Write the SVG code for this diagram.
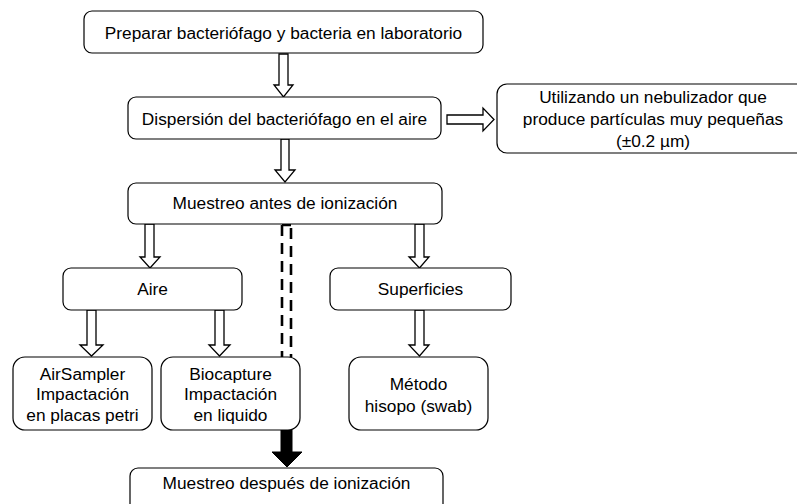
<svg xmlns="http://www.w3.org/2000/svg" width="797" height="504" viewBox="0 0 797 504">
<style>
.box{fill:#fff;stroke:#000;stroke-width:1.2}
.t{font-family:"Liberation Sans",Arial,sans-serif;font-size:17.3px;fill:#000;text-anchor:middle}
.ar{fill:#fff;stroke:#000;stroke-width:1.3;stroke-linejoin:miter}
.dash{stroke:#000;stroke-width:2.6;stroke-dasharray:11 7;fill:none}
.solid{fill:#000;stroke:#000;stroke-width:1}
</style>
<rect width="797" height="504" fill="#fff"/>
<g id="connectors">
<polygon class="ar" points="279,54 288,54 288,85 293,85 283.5,97 274,85 279,85"/>
<polygon class="ar" points="281,139 289,139 289,170 295,170 285,182 275,170 281,170"/>
<polygon class="ar" points="447,115 483,115 483,108 494,119.5 483,131 483,124 447,124"/>
<polygon class="ar" points="145,224 154,224 154,257 160,257 150,268 140,257 145,257"/>
<polygon class="ar" points="415,224 424,224 424,257 429,257 419.5,268 409,257 415,257"/>
<polygon class="ar" points="87,310 96,310 96,345 103,345 91.5,356 80,345 87,345"/>
<polygon class="ar" points="215,310 224,310 224,345 230,345 219.5,356 209,345 215,345"/>
<polygon class="ar" points="415,310 424,310 424,345 429,345 419.5,356 409,345 415,345"/>
<path class="dash" d="M282,225 V357 M282,225 H291"/>
<path class="dash" d="M291,228 V357"/>
<polygon class="solid" points="281,430 292,430 292,452 302,452 287,467 272,452 281,452"/>
</g>
<g id="n1"><rect class="box" x="84" y="11" width="399" height="42" rx="8"/><text class="t" x="283.5" y="39">Preparar bacteriófago y bacteria en laboratorio</text></g>
<g id="n2"><rect class="box" x="128" y="97" width="313" height="42" rx="8"/><text class="t" x="284.5" y="125">Dispersión del bacteriófago en el aire</text></g>
<g id="n3"><rect class="box" x="497" y="84" width="312" height="69" rx="10"/><text class="t" x="653" y="103">Utilizando un nebulizador que</text><text class="t" x="653" y="125">produce partículas muy pequeñas</text><text class="t" x="653" y="147">(±0.2 µm)</text></g>
<g id="n4"><rect class="box" x="128" y="183" width="314" height="41" rx="8"/><text class="t" x="285" y="209">Muestreo antes de ionización</text></g>
<g id="n5"><rect class="box" x="63" y="268" width="179" height="42" rx="8"/><text class="t" x="152.5" y="295">Aire</text></g>
<g id="n6"><rect class="box" x="330" y="268" width="181" height="42" rx="8"/><text class="t" x="420.5" y="295">Superficies</text></g>
<g id="n7"><rect class="box" x="13" y="357" width="139" height="73" rx="12"/><text class="t" x="82.5" y="380">AirSampler</text><text class="t" x="82.5" y="400">Impactación</text><text class="t" x="82.5" y="421">en placas petri</text></g>
<g id="n8"><rect class="box" x="161" y="357" width="139" height="73" rx="12"/><text class="t" x="230.5" y="380">Biocapture</text><text class="t" x="230.5" y="400">Impactación</text><text class="t" x="230.5" y="421">en liquido</text></g>
<g id="n9"><rect class="box" x="349" y="357" width="139" height="73" rx="12"/><text class="t" x="418.5" y="390">Método</text><text class="t" x="418.5" y="412">hisopo (swab)</text></g>
<g id="n10"><rect class="box" x="130" y="468" width="313" height="44" rx="8"/><text class="t" x="286.5" y="489">Muestreo después de ionización</text></g>
</svg>
